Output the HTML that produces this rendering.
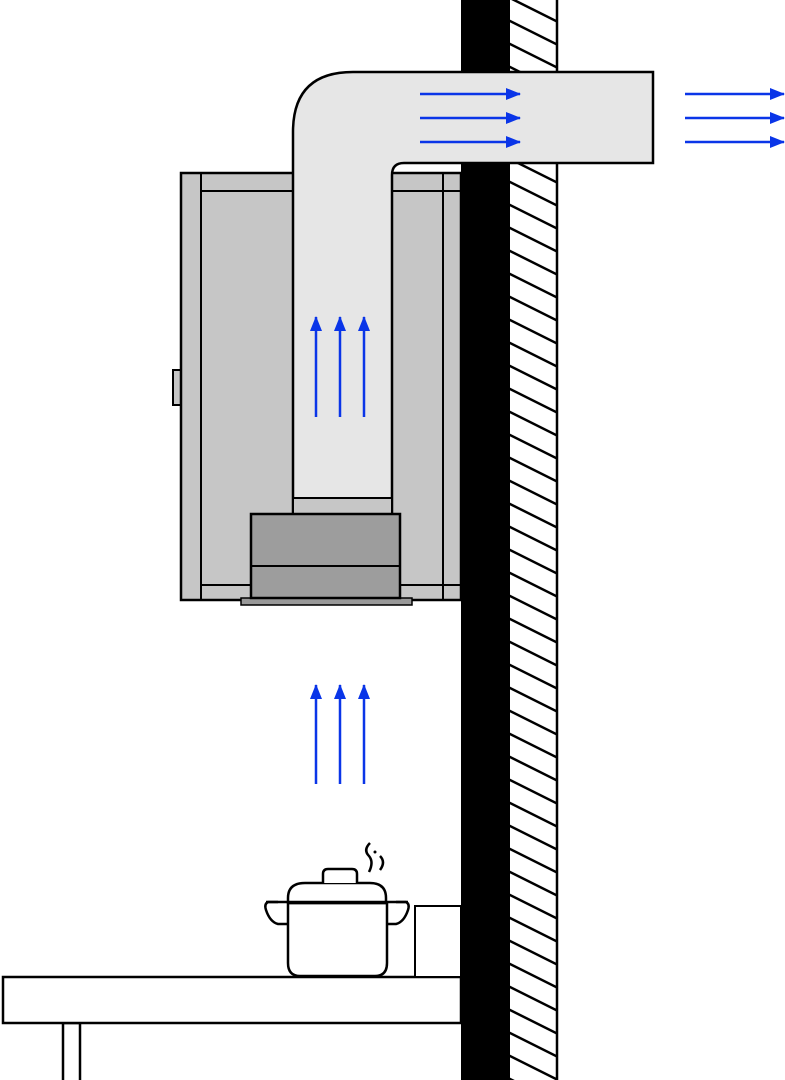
<!DOCTYPE html>
<html><head><style>html,body{margin:0;padding:0;background:#fff}svg{display:block}</style></head><body>
<svg width="785" height="1080" viewBox="0 0 785 1080" xmlns="http://www.w3.org/2000/svg">
<defs>
<marker id="ah" markerWidth="16" markerHeight="14" refX="14" refY="6" orient="auto" markerUnits="userSpaceOnUse"><path d="M0,0 L15,6 L0,12 z" fill="#0a35e8"/></marker>
<clipPath id="hc"><rect x="510" y="0" width="47" height="1080"/></clipPath>
</defs>
<rect x="510" y="0" width="47" height="1080" fill="#fff"/>
<g clip-path="url(#hc)" stroke="#000" stroke-width="2.5">
<path d="M480,-40 L600,20 M480,-17 L600,43 M480,6 L600,66 M480,29 L600,89 M480,52 L600,112 M480,75 L600,135 M480,98 L600,158 M480,121 L600,181 M480,144 L600,204 M480,167 L600,227 M480,190 L600,250 M480,213 L600,273 M480,236 L600,296 M480,259 L600,319 M480,282 L600,342 M480,305 L600,365 M480,328 L600,388 M480,351 L600,411 M480,374 L600,434 M480,397 L600,457 M480,420 L600,480 M480,443 L600,503 M480,466 L600,526 M480,489 L600,549 M480,512 L600,572 M480,535 L600,595 M480,558 L600,618 M480,581 L600,641 M480,604 L600,664 M480,627 L600,687 M480,650 L600,710 M480,673 L600,733 M480,696 L600,756 M480,719 L600,779 M480,742 L600,802 M480,765 L600,825 M480,788 L600,848 M480,811 L600,871 M480,834 L600,894 M480,857 L600,917 M480,880 L600,940 M480,903 L600,963 M480,926 L600,986 M480,949 L600,1009 M480,972 L600,1032 M480,995 L600,1055 M480,1018 L600,1078 M480,1041 L600,1101 M480,1064 L600,1124"/>
</g>
<line x1="557" y1="0" x2="557" y2="1080" stroke="#000" stroke-width="2.5"/>
<rect x="461" y="0" width="49" height="1080" fill="#000"/>
<rect x="173" y="370" width="8" height="35" fill="#c6c6c6" stroke="#000" stroke-width="2"/>
<rect x="181" y="173" width="280" height="427" fill="#c6c6c6" stroke="#000" stroke-width="2.5"/>
<line x1="201" y1="173" x2="201" y2="600" stroke="#000" stroke-width="2"/>
<line x1="443" y1="173" x2="443" y2="600" stroke="#000" stroke-width="2"/>
<line x1="201" y1="191" x2="461" y2="191" stroke="#000" stroke-width="2"/>
<line x1="201" y1="585" x2="461" y2="585" stroke="#000" stroke-width="2"/>
<path d="M293,515 L293,132 Q293,72 353,72 L653,72 L653,163 L404,163 Q392,163 392,175 L392,515 Z" fill="#e6e6e6" stroke="#000" stroke-width="2.5"/>
<rect x="293" y="498" width="99" height="17" fill="#c6c6c6" stroke="#000" stroke-width="2"/>
<rect x="241" y="598" width="171" height="7" fill="#999" stroke="#000" stroke-width="1.5"/>
<rect x="251" y="514" width="149" height="84" fill="#9d9d9d" stroke="#000" stroke-width="2.5"/>
<line x1="251" y1="566" x2="400" y2="566" stroke="#000" stroke-width="2"/>
<g stroke="#0a35e8" stroke-width="2.5" marker-end="url(#ah)">
<line x1="420" y1="94" x2="520" y2="94"/><line x1="420" y1="118" x2="520" y2="118"/><line x1="420" y1="142" x2="520" y2="142"/>
<line x1="685" y1="94" x2="784" y2="94"/><line x1="685" y1="118" x2="784" y2="118"/><line x1="685" y1="142" x2="784" y2="142"/>
<line x1="316" y1="417" x2="316" y2="317"/><line x1="340" y1="417" x2="340" y2="317"/><line x1="364" y1="417" x2="364" y2="317"/>
<line x1="316" y1="784" x2="316" y2="685"/><line x1="340" y1="784" x2="340" y2="685"/><line x1="364" y1="784" x2="364" y2="685"/>
</g>
<rect x="63" y="1023" width="17" height="60" fill="#fff" stroke="#000" stroke-width="2.5"/>
<rect x="3" y="977" width="458" height="46" fill="#fff" stroke="#000" stroke-width="2.5"/>
<rect x="415" y="906" width="46" height="71" fill="#fff" stroke="#000" stroke-width="2"/>
<g fill="#fff" stroke="#000" stroke-width="2.5" stroke-linejoin="round">
<path d="M278,902 L268,902 Q264,904 266,910 Q270,922 278,924 L290,924"/>
<path d="M396,902 L406,902 Q410,904 408,910 Q404,922 396,924 L386,924"/>
<path d="M288,903 L288,963 Q288,976 300,976 L375,976 Q387,976 387,963 L387,903 Z"/>
<path d="M288,903 L288,898 Q288,883 305,883 L370,883 Q386,883 386,898 L386,903 Z"/>
<line x1="266" y1="902" x2="408" y2="902"/>
<path d="M323,883 L323,874 Q323,869 328,869 L352,869 Q357,869 357,874 L357,883"/>
<path d="M370,843 Q363,850 369,856 Q374,862 369,872" fill="none"/>
<path d="M380,856 Q386,862 380,870" fill="none"/>
</g>
<circle cx="375" cy="852" r="1.5" fill="#000"/>
</svg>
</body></html>
